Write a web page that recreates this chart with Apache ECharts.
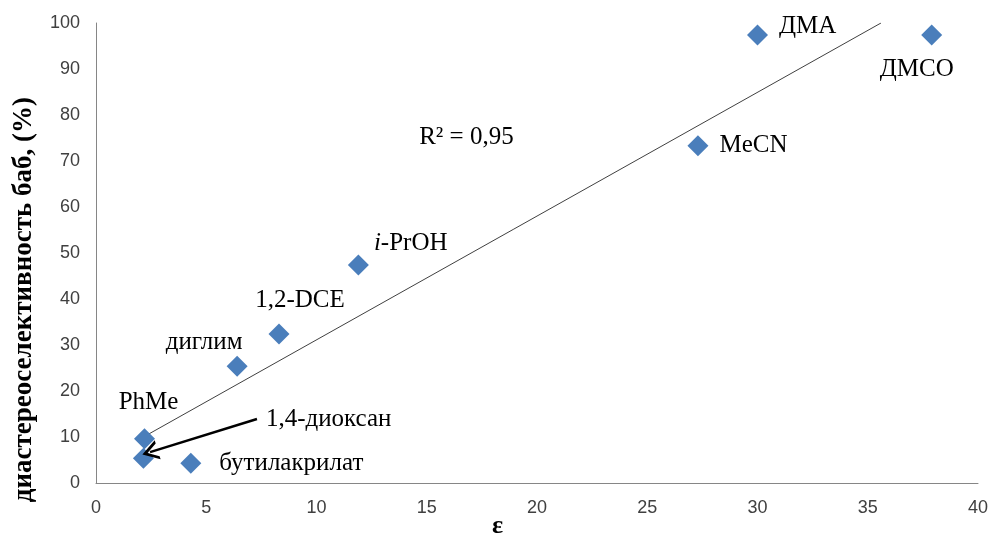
<!DOCTYPE html>
<html><head><meta charset="utf-8">
<script src="https://cdn.jsdelivr.net/npm/echarts@6/dist/echarts.min.js"></script>
<style>html,body{margin:0;padding:0;background:#fff}#c{width:993px;height:538px}</style>
</head><body><div id="c"></div>
<script>
// Data
var solvents = ['ДМА','ДМСО','MeCN','i-PrOH','1,2-DCE','диглим','PhMe','1,4-диоксан','бутилакрилат'];
var epsilon  = [30.0, 37.9, 27.3, 11.9, 8.3, 6.4, 2.2, 2.15, 4.3];
var selectivity = [97.4, 97.4, 73.3, 47.4, 32.4, 25.4, 9.6, 5.4, 4.3];
var trendX = [2.3, 35.6];
var trendY = [10.4, 100];
var arrowFrom = [7.3, 13.9];
var arrowTo = [2.45, 6.7];
var r2Text = 'R² = 0,95';
var r2Pos = [16.8, 75.2];
var xTicks = [0,5,10,15,20,25,30,35,40];
var yTicks = [0,10,20,30,40,50,60,70,80,90,100];
var xTitle = 'ε';
var yTitle = 'диастереоселективность баб, (%)';

// label styling per point (offsets in px)
var labelStyle = {
  'ДМА': {position:'right', offset:[6,-9]},
  'ДМСО': {position:'bottom', offset:[-15,6]},
  'MeCN': {position:'right', offset:[6,0]},
  'i-PrOH': {position:'right', offset:[0,-22]},
  '1,2-DCE': {position:'top', offset:[21,-6]},
  'диглим': {position:'top', offset:[-33,4]},
  'PhMe': {position:'top', offset:[4,-8]},
  '1,4-диоксан': {position:'right', offset:[107,-39]},
  'бутилакрилат': {position:'right', offset:[13,0]}
};

var serif = '"Liberation Serif","Times New Roman",serif';
var pts = solvents.map(function(n,i){
  var ls = labelStyle[n];
  var fmt = n === 'i-PrOH' ? '{it|i}-PrOH' : n;
  return {value:[epsilon[i], selectivity[i]], name:n,
    label:{show:true, position:ls.position, offset:ls.offset, formatter:fmt,
      color:'#000', fontFamily:serif, fontSize:25,
      rich:{it:{fontStyle:'italic', fontFamily:serif, fontSize:25, color:'#000'}}}};
});

var chart = echarts.init(document.getElementById('c'), null, {renderer:'canvas'});
chart.setOption({
  animation:false,
  grid:{left:96, right:15, top:23, bottom:55, containLabel:false, outerBoundsMode:'none'},
  xAxis:{type:'value', min:xTicks[0], max:xTicks[xTicks.length-1], interval:5,
    axisLine:{show:true, lineStyle:{color:'#868686', width:1}},
    axisTick:{show:false}, splitLine:{show:false},
    axisLabel:{fontFamily:'"Liberation Sans",Arial,sans-serif', fontSize:18, color:'#404040', margin:16}},
  yAxis:{type:'value', min:yTicks[0], max:yTicks[yTicks.length-1], interval:10,
    axisLine:{show:true, lineStyle:{color:'#868686', width:1}},
    axisTick:{show:false}, splitLine:{show:false},
    axisLabel:{fontFamily:'"Liberation Sans",Arial,sans-serif', fontSize:18, color:'#404040', margin:16}},
  graphic:[
    {type:'text', left:11, top:97, rotation:Math.PI/2,
      style:{text:yTitle, font:'bold 27px '+serif, fill:'#000'}},
    {type:'text', left:492, top:513,
      style:{text:xTitle, font:'bold 26px '+serif, fill:'#000'}}
  ],
  series:[
    {type:'line', data:[[trendX[0],trendY[0]],[trendX[1],trendY[1]]], symbol:'none',
      lineStyle:{color:'#404040', width:1}, silent:true, z:1},
    {type:'scatter', data:pts, symbol:'diamond', symbolSize:21,
      itemStyle:{color:'#4A7EBB', opacity:1}, z:3,
      markLine:{silent:true, symbol:['none','path://M0,12 L6,0 L12,12 L10,12 L6,4 L2,12 Z'], symbolSize:[20,16],
        lineStyle:{color:'#000', width:2.5, type:'solid'}, label:{show:false},
        data:[[{coord:arrowFrom},{coord:arrowTo}]]},
      markPoint:{symbol:'circle', symbolSize:1, itemStyle:{color:'transparent'},
        label:{show:true, position:'inside', color:'#000', fontFamily:serif, fontSize:25, formatter:r2Text},
        data:[{coord:r2Pos}]}}
  ]
});
</script></body></html>
